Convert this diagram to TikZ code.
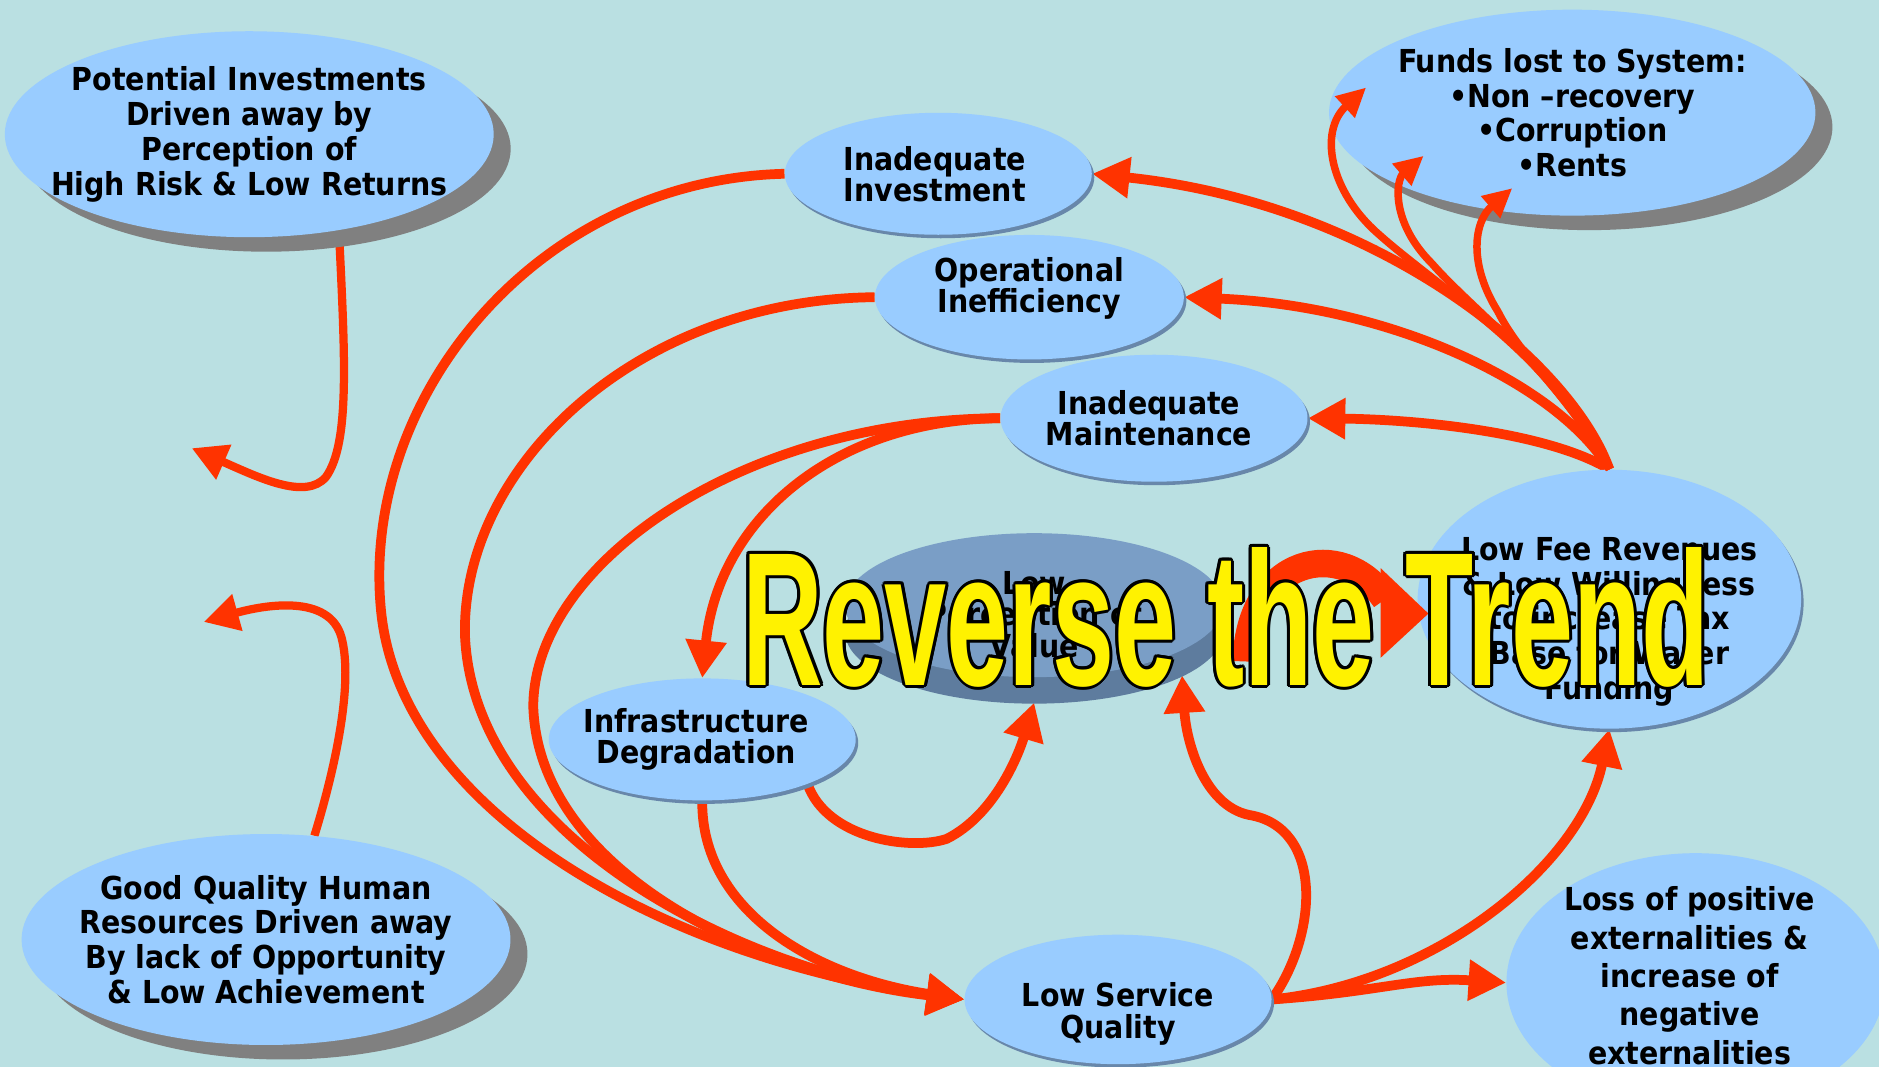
\documentclass[tikz,border=0pt]{standalone}
\usepackage{fontspec}
\setmainfont{DejaVu Sans Condensed}[BoldFont={DejaVu Sans Condensed Bold}]
\newfontfamily\trendfont{Liberation Sans}
\usetikzlibrary{arrows.meta,shapes.geometric,shadows,calc}
\definecolor{slidebg}{RGB}{186,224,226}
\definecolor{bubblefill}{RGB}{153,204,255}
\definecolor{shadowgray}{RGB}{128,128,128}
\definecolor{rimblue}{RGB}{104,135,170}
\definecolor{linkred}{RGB}{255,51,0}
\definecolor{disctop}{RGB}{122,158,198}
\definecolor{discside}{RGB}{94,124,158}
\pgfdeclarelayer{links}
\pgfsetlayers{links,main}
\newcommand{\trendtext}{\resizebox{19.34cm}{2.76cm}{\trendfont\bfseries Reverse the Trend}}

\tikzset{
	bubble/.style={ellipse, fill=bubblefill, inner sep=0pt},
	bigbubble/.style={bubble, drop shadow={shadow xshift=0.34cm, shadow yshift=-0.29cm, fill=shadowgray, opacity=1}},
	smallbubble/.style={bubble, drop shadow={shadow xshift=0.05cm, shadow yshift=-0.07cm, fill=rimblue, opacity=1}},
	caption/.style={align=center, inner sep=0pt, font=\bfseries\fontsize{18}{19.8}\selectfont},
	tightcaption/.style={caption, font=\bfseries\fontsize{18}{17.7}\selectfont},
	link/.style={draw=linkred, line width=0.195cm, -{Triangle[length=0.75cm,width=0.78cm]}},
	thinlink/.style={link, line width=0.165cm, -{Triangle[length=0.7cm,width=0.72cm]}},
	forklink/.style={link, line width=0.15cm, -{Triangle[length=0.58cm,width=0.55cm]}},
}

\begin{document}
\begin{tikzpicture}[x=0.02397cm, y=-0.02397cm]
			%%%%% START %%%%%
			
			\useasboundingbox (0,0) rectangle (1568,890);
			
			% outer boxes
			\node[bigbubble, minimum width=9.78cm, minimum height=4.12cm,
				label={[caption]center:{Potential Investments\\Driven away by\\Perception of\\High Risk \& Low Returns}}] (pot) at (208,112) {};
			\node[bigbubble, minimum width=9.73cm, minimum height=4.12cm,
				label={[caption]center:{Funds lost to System:\\•Non –recovery\\•Corruption\\•Rents}}] (funds) at (1312,94) {};
			\node[bigbubble, minimum width=9.78cm, minimum height=4.22cm,
				label={[caption]center:{Good Quality Human\\Resources Driven away\\By lack of Opportunity\\\& Low Achievement}}] (human) at (222,784) {};
			
			% the loop
			\node[smallbubble, minimum width=6.14cm, minimum height=2.44cm,
				label={[tightcaption, xshift=-0.07cm]center:{Inadequate\\Investment}}] (invest) at (783,145) {};
			\node[smallbubble, minimum width=6.18cm, minimum height=2.49cm,
				label={[tightcaption, yshift=0.17cm]center:{Operational\\Inefficiency}}] (oper) at (859,248) {};
			\node[smallbubble, minimum width=6.14cm, minimum height=2.54cm,
				label={[tightcaption, xshift=-0.1cm]center:{Inadequate\\Maintenance}}] (maint) at (963,349) {};
			\node[smallbubble, minimum width=6.14cm, minimum height=2.44cm,
				label={[tightcaption, xshift=-0.12cm]center:{Infrastructure\\Degradation}}] (infra) at (586,617) {};
			\node[smallbubble, minimum width=6.14cm, minimum height=2.59cm,
				label={[tightcaption, yshift=-0.29cm]center:{Low Service\\Quality}}] (lsq) at (933,834) {};
			\node[bubble, fill=disctop, minimum width=7.57cm, minimum height=2.88cm,
				drop shadow={shadow xshift=0cm, shadow yshift=-0.53cm, fill=discside, opacity=1},
				label={[tightcaption, yshift=-0.19cm]center:{Low\\Perception of\\Value}}] (lpv) at (863,505) {};
			\node[smallbubble, minimum width=7.67cm, minimum height=5.18cm,
				label={[caption, yshift=-0.45cm]center:{Low Fee Revenues\\\& Low Willingness\\to increase Tax\\Base for Water\\Funding}}] (fee) at (1343,500) {};
			\node[bubble, minimum width=7.57cm, minimum height=5.18cm,
				label={[caption, font=\bfseries\fontsize{18}{21.8}\selectfont, xshift=-0.12cm, yshift=0.14cm]center:{Loss of positive\\externalities \&\\increase of\\negative\\externalities}}] (loss) at (1415,820) {};
			
			\coordinate (potend) at (160,374);
			\coordinate (humend) at (170,519);
			\coordinate (leak1) at ([shift={(-172,-21)}]funds.center);
			\coordinate (leak2) at ([shift={(-124,36)}]funds.center);
			\coordinate (leak3) at ([shift={(-50,63)}]funds.center);
			
			\begin{pgfonlayer}{links}
				\fill[slidebg] (0,0) rectangle (1568,890);
				
				\draw[thinlink] (pot.-47) .. controls (288,300) and (292,370) .. (272,398) .. controls (255,418) and (215,398) .. (potend);
				\draw[thinlink] (human.65) .. controls (280,640) and (295,570) .. (285,532) .. controls (275,495) and (220,505) .. (humend);
				
				\draw[link] (invest.west) .. controls (450,150) and (300,330) .. (318,510) .. controls (335,680) and (560,800) .. (lsq.west);
				\draw[link] (oper.west) .. controls (530,250) and (385,390) .. (388,530) .. controls (395,700) and (620,810) .. (lsq.west);
				\draw[link] (maint.west) .. controls (620,350) and (445,470) .. (445,590) .. controls (450,730) and (640,815) .. (lsq.west);
				\draw[link] (maint.west) .. controls (700,350) and (600,430) .. (infra.north);
				\draw[link] (infra.south) .. controls (585,760) and (680,815) .. (lsq.west);
				\draw[link] (infra.-23) .. controls (690,700) and (760,710) .. (790,700) .. controls (830,680) and (850,630) .. ([yshift=-0.5cm]lpv.south);
				
				\draw[link] (lsq.east) .. controls (1100,780) and (1105,690) .. (1042,680) .. controls (1005,672) and (990,620) .. ([yshift=-0.5cm]lpv.-17);
				\draw[link] (lsq.east) .. controls (1200,820) and (1320,720) .. (fee.south);
				\draw[link] (lsq.east) .. controls (1150,828) and (1180,815) .. (loss.west);
				
				\draw[link] (fee.north) .. controls (1290,360) and (1180,350) .. (maint.east);
				\draw[link] (fee.north) .. controls (1300,320) and (1160,255) .. (oper.east);
				\draw[link] (fee.north) .. controls (1310,300) and (1150,170) .. (invest.east);
			\end{pgfonlayer}
			
			% losses out of the system
			\draw[forklink] (fee.north) .. controls (1300,300) and (1200,240) .. (1150,195) .. controls (1110,160) and (1100,110) .. (leak1);
			\draw[forklink] (fee.north) .. controls (1300,310) and (1230,260) .. (1195,220) .. controls (1160,185) and (1165,150) .. (leak2);
			\draw[forklink] (fee.north) .. controls (1310,330) and (1270,300) .. (1250,260) .. controls (1225,220) and (1230,185) .. (leak3);
			
			% turning arrow and title
			\draw[linkred, line width=0.55cm] (1040,552) .. controls (1042,465) and (1120,447) .. (1156,500);
			\fill[linkred] (1152,474) -- (1192,512) -- (1152,549) -- cycle;
			
			\coordinate (trend) at (1023,515);
			\foreach \a in {0,30,...,330}
				\node[inner sep=0pt, text=black] at ([shift={(\a:2.5)}]trend) {\trendtext};
			\node[inner sep=0pt, text=yellow] (title) at (trend) {\trendtext};
			
			%%%%% END %%%%%
\end{tikzpicture}
\end{document}
